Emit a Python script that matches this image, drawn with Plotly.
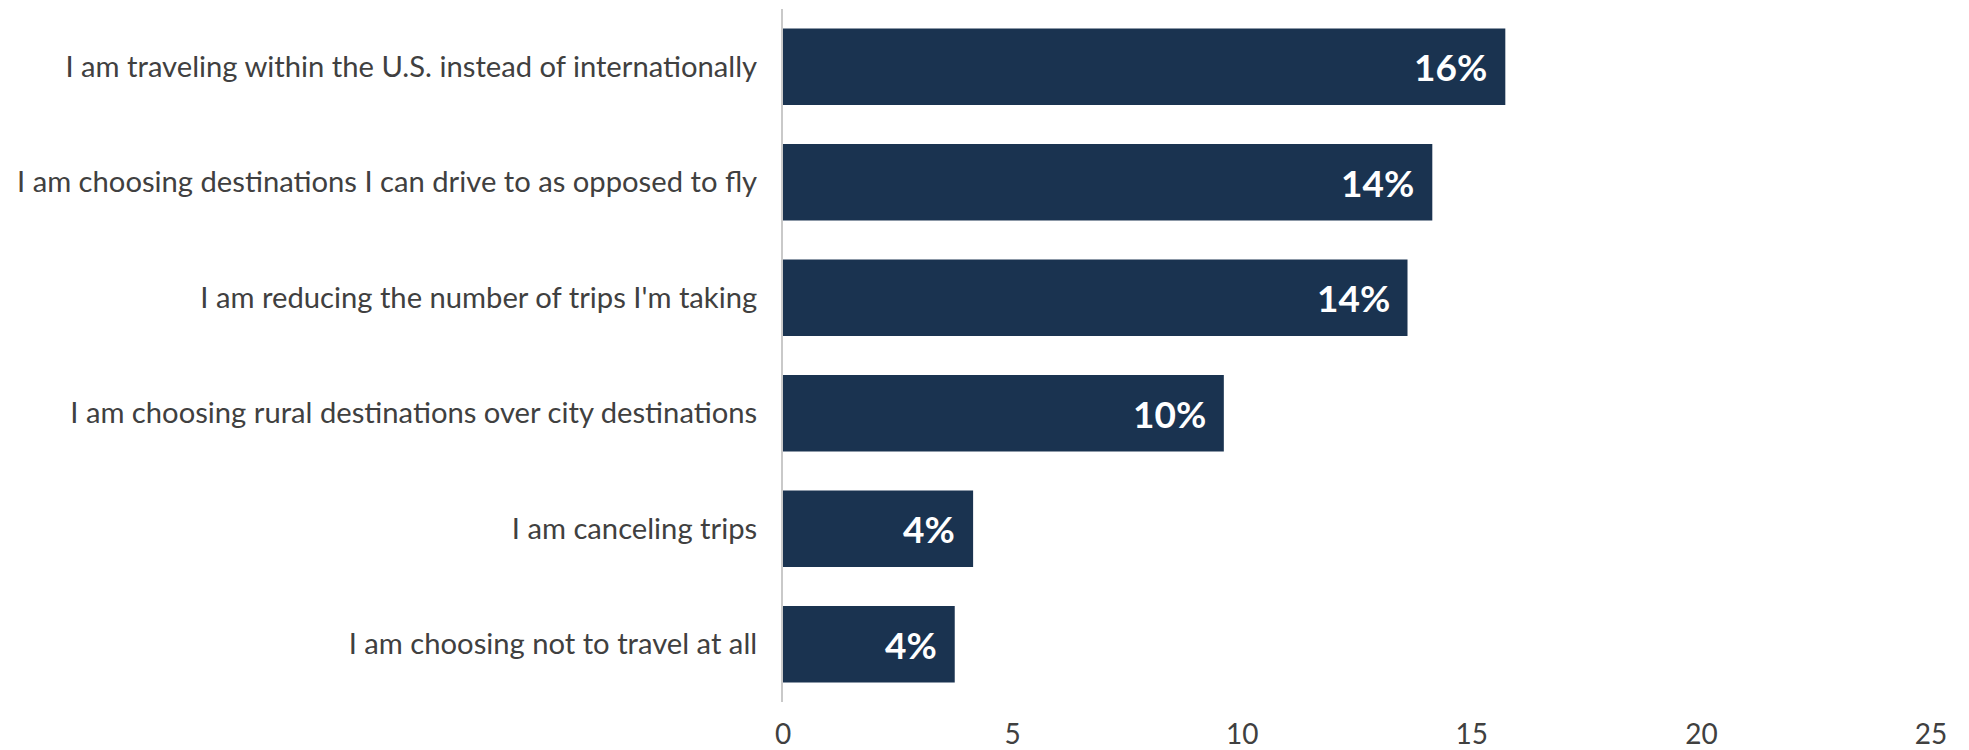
import plotly.graph_objects as go

# Survey responses: how travel plans are changing
categories = [
    "I am traveling within the U.S. instead of internationally",
    "I am choosing destinations I can drive to as opposed to fly",
    "I am reducing the number of trips I'm taking",
    "I am choosing rural destinations over city destinations",
    "I am canceling trips",
    "I am choosing not to travel at all",
]
shares = [15.73, 14.14, 13.6, 9.6, 4.14, 3.74]
x_ticks = [0, 5, 10, 15, 20, 25]

bar_color = "#1a3350"
text_color = "#404040"

fig = go.Figure(
    go.Bar(
        x=shares,
        y=categories,
        orientation="h",
        marker=dict(color=bar_color, line=dict(width=0)),
        hoverinfo="x+y",
    )
)

# value labels just inside the end of each bar
for cat, val in zip(categories, shares):
    fig.add_annotation(
        x=val, y=cat, xref="x", yref="y",
        text=f"{val:.0f}%",
        xanchor="right", yanchor="middle",
        xshift=-16, showarrow=False,
        font=dict(family="Lato", size=37, color="white", weight="bold"),
    )

fig.update_layout(
    width=1969, height=750,
    margin=dict(l=783, r=38, t=9, b=48, autoexpand=False),
    paper_bgcolor="white", plot_bgcolor="white",
    bargap=0.336,
    showlegend=False,
    font=dict(family="Lato", size=29, color=text_color),
)
fig.update_xaxes(
    range=[0, 25], tickvals=x_ticks, showgrid=False, zeroline=False,
    showline=False, ticks="", ticklabelstandoff=13, automargin=False,
    tickfont=dict(family="Lato", size=28, color=text_color),
)
fig.update_yaxes(
    categoryorder="array", categoryarray=categories[::-1],
    showgrid=False, zeroline=False, showline=True, linecolor="#c9c9c9",
    linewidth=2, ticks="", ticklabelstandoff=18, automargin=False,
    tickfont=dict(family="Lato", size=29.2, color=text_color),
)

fig.write_html("out.html")
